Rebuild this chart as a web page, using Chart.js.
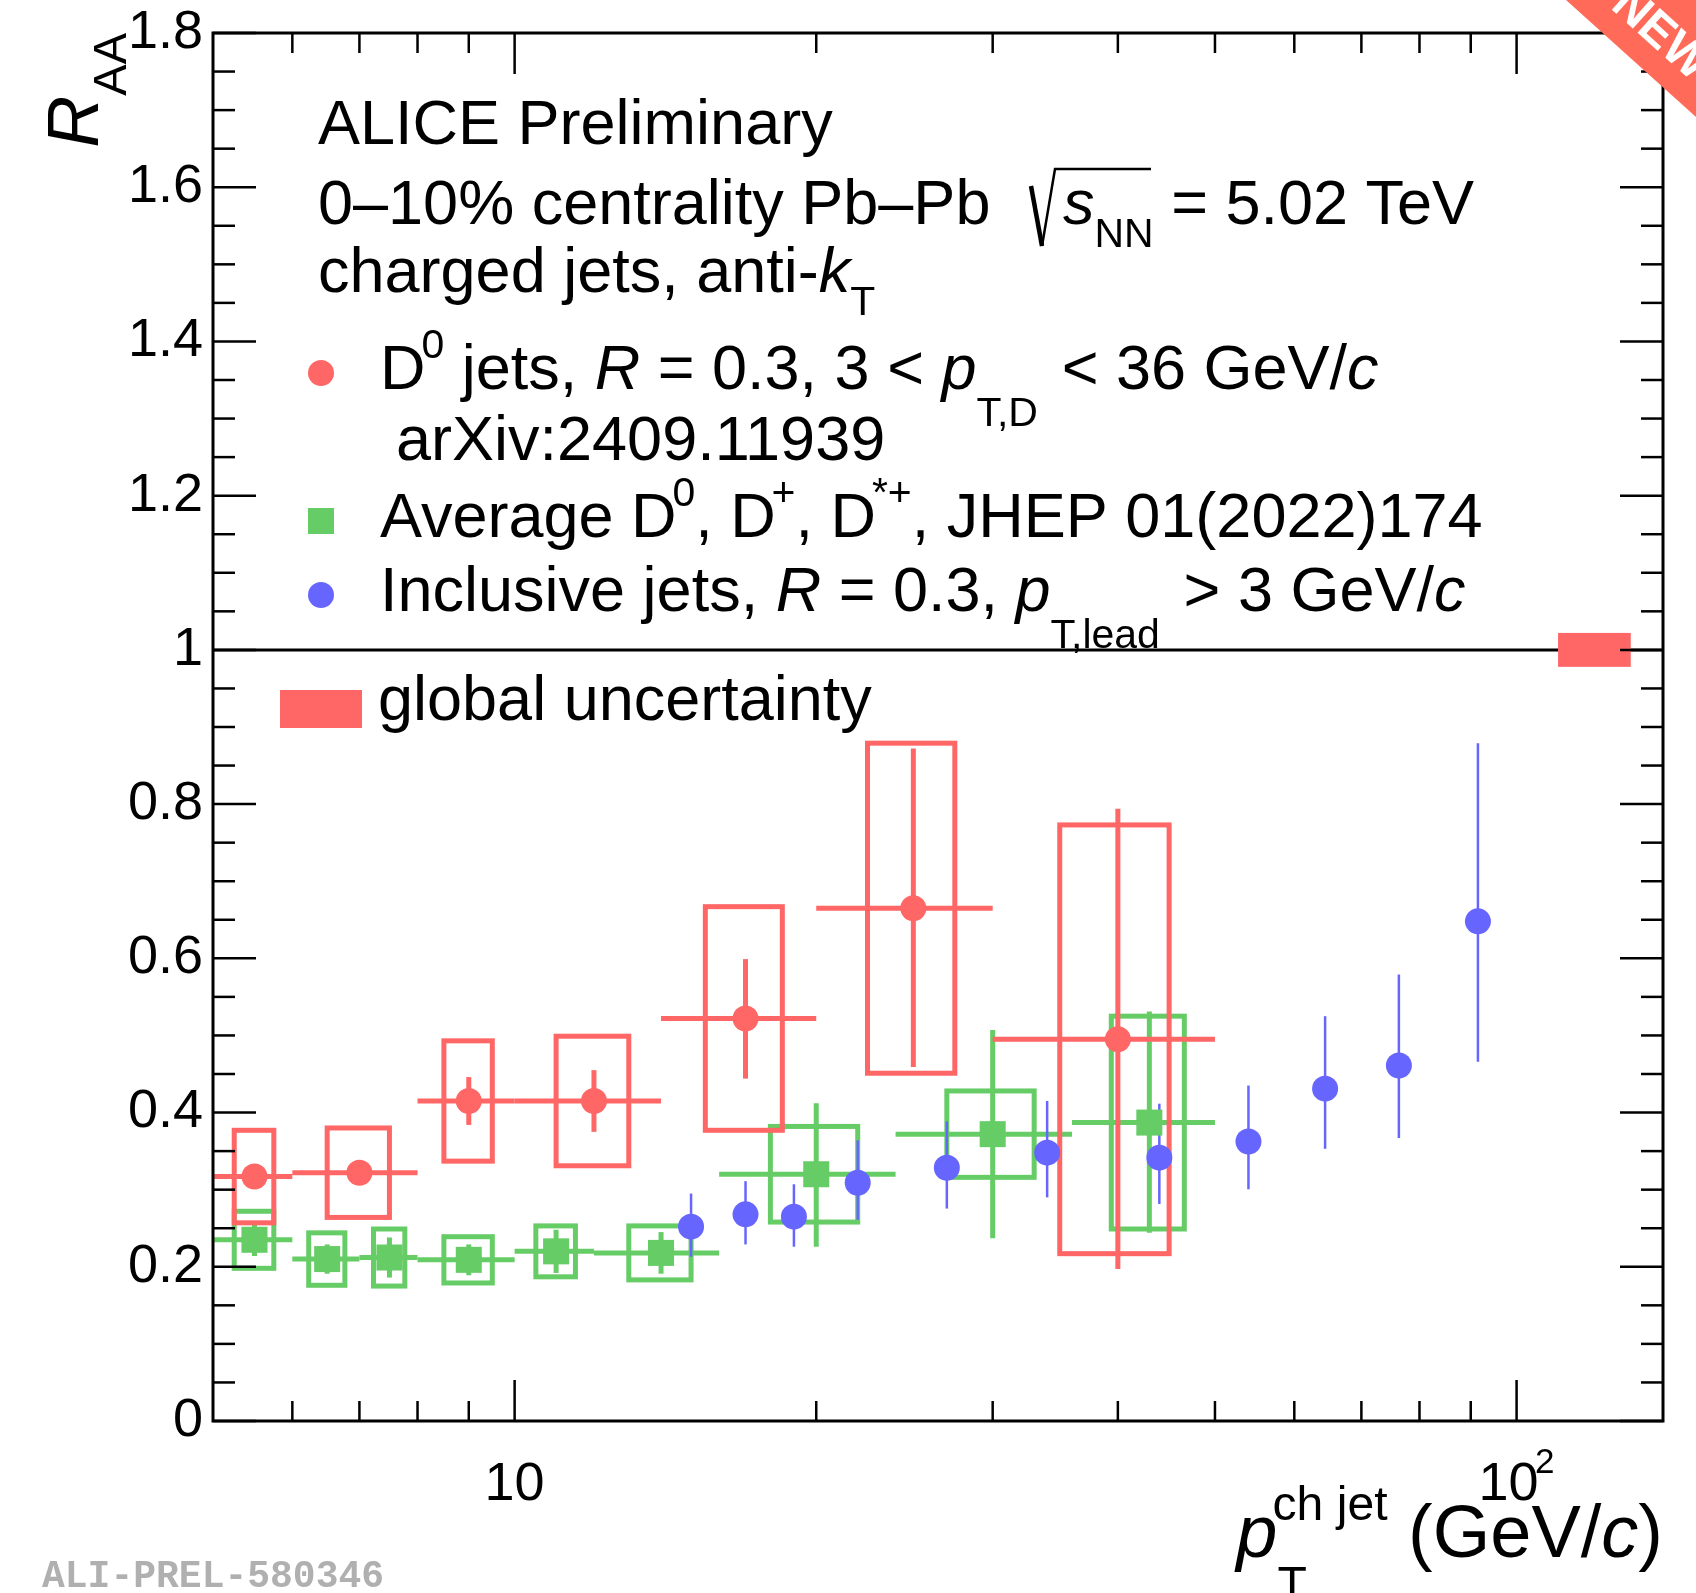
<!DOCTYPE html>
<html><head><meta charset="utf-8">
<script src="https://cdn.jsdelivr.net/npm/chart.js@4/dist/chart.umd.min.js"></script>
<style>html,body{margin:0;padding:0;background:#fff;overflow:hidden}#wrap{width:1696px;height:1593px;position:relative;background:#fff}</style>
</head><body><div id="wrap"><canvas id="c" width="1696" height="1593"></canvas></div>
<script>
// ---------------- data ----------------
// D0 jets, R = 0.3 (arXiv:2409.11939)
const d0Pt      = [5.5, 7, 9, 12, 17, 25, 40];
const d0BinLow  = [5, 6, 8, 10, 14, 20, 30];
const d0BinHigh = [6, 8, 10, 14, 20, 30, 50];
const d0Raa     = [0.317, 0.322, 0.415, 0.415, 0.522, 0.665, 0.495];
const d0StatUp  = [0.010, 0.012, 0.031, 0.040, 0.077, 0.207, 0.299];
const d0StatDn  = [0.010, 0.012, 0.031, 0.040, 0.078, 0.206, 0.298];
const d0Sys     = [0.060, 0.058, 0.078, 0.084, 0.145, 0.214, 0.278];
const d0SysHalfW= [0.25, 0.5, 0.5, 1, 1.5, 2.5, 5];

// Average D0, D+, D*+ (JHEP 01(2022)174)
const dAvgPt      = [5.5, 6.5, 7.5, 9, 11, 14, 20, 30, 43];
const dAvgBinLow  = [5, 6, 7, 8, 10, 12, 16, 24, 36];
const dAvgBinHigh = [6, 7, 8, 10, 12, 16, 24, 36, 50];
const dAvgRaa     = [0.235, 0.210, 0.212, 0.209, 0.220, 0.218, 0.320, 0.372, 0.387];
const dAvgStatUp  = [0.021, 0.019, 0.026, 0.020, 0.028, 0.027, 0.092, 0.135, 0.144];
const dAvgStatDn  = [0.021, 0.019, 0.026, 0.020, 0.028, 0.027, 0.094, 0.135, 0.143];
const dAvgSys     = [0.037, 0.034, 0.037, 0.030, 0.033, 0.035, 0.062, 0.056, 0.138];
const dAvgSysHalfW= [0.25, 0.27, 0.27, 0.5, 0.5, 1, 2, 3, 3.6];

// Inclusive jets, R = 0.3, pT,lead > 3 GeV/c
const incPt     = [15, 17, 19, 22, 27, 34, 44, 54, 64.4, 76.3, 91.5];
const incRaa    = [0.252, 0.268, 0.265, 0.309, 0.3285, 0.348, 0.3415, 0.3625, 0.431, 0.461, 0.648];
const incStatUp = [0.043, 0.043, 0.042, 0.055, 0.060, 0.067, 0.070, 0.0725, 0.094, 0.118, 0.231];
const incStatDn = [0.039, 0.039, 0.039, 0.048, 0.053, 0.058, 0.060, 0.062, 0.078, 0.094, 0.182];

// global uncertainty box
const globalUncX   = [110, 130];
const globalUncY   = [1.0];
const globalUncErr = [0.022];

// axes
const yMajorTicks = [0, 0.2, 0.4, 0.6, 0.8, 1.0, 1.2, 1.4, 1.6, 1.8];
const yTickLabels = ['0', '0.2', '0.4', '0.6', '0.8', '1', '1.2', '1.4', '1.6', '1.8'];
const yMinorPerMajor = 3;
const xMajorTicks = [10, 100];
const xTickLabels = ['10', '10^2'];
const xMinorTicks = [6, 7, 8, 9, 20, 30, 40, 50, 60, 70, 80, 90];
const xRange = [5, 140];
const yRange = [0, 1.8];

// ---------------- styles ----------------
const FONT = '"Liberation Sans", Arial, Helvetica, sans-serif';
const RED = '#ff6666', GREEN = '#66cc66', BLUE = '#6666ff';

function fontStr(size, italic, bold, fam) {
  return (italic ? 'italic ' : '') + (bold ? 'bold ' : '') + size + 'px ' + (fam || FONT);
}
// segments: [text, flags]; flags: i italic, ^ sup, _ sub, d deep sub, | overlay with next, + extra gap after
function drawRich(ctx, x, yb, segs, size, align) {
  const SS = 0.65;
  const items = segs.map(([t, f]) => {
    f = f || '';
    const small = f.includes('^') || f.includes('_');
    const sz = small ? size * SS : size;
    ctx.font = fontStr(sz, f.includes('i'));
    let dy = 0;
    if (f.includes('^')) dy = -0.5 * size;
    if (f.includes('_')) dy = f.includes('d') ? 0.58 * size : 0.36 * size;
    const extra = f.includes('+') ? 0.1 * size : 0;
    const pre = f.includes('^') ? -0.065 * size : 0;
    return {t, f, sz, dy, pre, w: ctx.measureText(t).width + extra + pre};
  });
  let total = 0, pend = 0;
  items.forEach(it => {
    if (it.f.includes('|')) { pend = Math.max(pend, it.w); }
    else { total += Math.max(pend, it.w); pend = 0; }
  });
  if (align === 'right') x -= total;
  if (align === 'center') x -= total / 2;
  let cx = x; pend = 0;
  ctx.textBaseline = 'alphabetic'; ctx.textAlign = 'left';
  items.forEach(it => {
    ctx.font = fontStr(it.sz, it.f.includes('i'));
    ctx.fillText(it.t, cx + it.pre, yb + it.dy);
    if (it.f.includes('|')) { pend = Math.max(pend, it.w); }
    else { cx += Math.max(pend, it.w); pend = 0; }
  });
  return cx;
}

function seg(ctx, x1, y1, x2, y2) { ctx.beginPath(); ctx.moveTo(x1, y1); ctx.lineTo(x2, y2); ctx.stroke(); }

function drawSeries(ctx, xs, ys, pts, raa, statUp, statDn, binLo, binHi, sys, sysHW, color, lw) {
  ctx.strokeStyle = color; ctx.lineWidth = lw;
  pts.forEach((p, i) => {
    const px = xs.getPixelForValue(p), py = ys.getPixelForValue(raa[i]);
    if (sys) {
      const xl = xs.getPixelForValue(p - sysHW[i]), xr = xs.getPixelForValue(p + sysHW[i]);
      const yt = ys.getPixelForValue(raa[i] + sys[i]), yb = ys.getPixelForValue(raa[i] - sys[i]);
      ctx.strokeRect(xl, yt, xr - xl, yb - yt);
    }
    if (binLo) seg(ctx, xs.getPixelForValue(binLo[i]), py, xs.getPixelForValue(binHi[i]), py);
    seg(ctx, px, ys.getPixelForValue(raa[i] + statUp[i]), px, ys.getPixelForValue(raa[i] - statDn[i]));
  });
}

const errPlugin = {
  id: 'errs',
  beforeDatasetsDraw(chart) {
    const {ctx, chartArea: a, scales: {x, y}} = chart;
    ctx.save();
    ctx.beginPath(); ctx.rect(a.left, a.top, a.right - a.left, a.bottom - a.top); ctx.clip();
    // reference line at unity
    ctx.strokeStyle = '#000'; ctx.lineWidth = 3;
    seg(ctx, a.left, y.getPixelForValue(1), a.right, y.getPixelForValue(1));
    // global uncertainty
    ctx.fillStyle = RED;
    const gx1 = x.getPixelForValue(globalUncX[0]), gx2 = x.getPixelForValue(globalUncX[1]);
    const gy1 = y.getPixelForValue(globalUncY[0] + globalUncErr[0]), gy2 = y.getPixelForValue(globalUncY[0] - globalUncErr[0]);
    ctx.fillRect(gx1, gy1, gx2 - gx1, gy2 - gy1);
    drawSeries(ctx, x, y, dAvgPt, dAvgRaa, dAvgStatUp, dAvgStatDn, dAvgBinLow, dAvgBinHigh, dAvgSys, dAvgSysHalfW, GREEN, 5);
    drawSeries(ctx, x, y, d0Pt, d0Raa, d0StatUp, d0StatDn, d0BinLow, d0BinHigh, d0Sys, d0SysHalfW, RED, 5);
    drawSeries(ctx, x, y, incPt, incRaa, incStatUp, incStatDn, null, null, null, null, BLUE, 2.5);
    ctx.restore();
  }
};

const decoPlugin = {
  id: 'deco',
  afterDraw(chart) {
    const {ctx, chartArea: a, scales: {x, y}} = chart;
    ctx.save();
    ctx.strokeStyle = '#000'; ctx.lineWidth = 2.5;
    // y ticks (inward, both sides)
    yMajorTicks.forEach((v, i) => {
      const py = y.getPixelForValue(v);
      seg(ctx, a.left, py, a.left + 43, py); seg(ctx, a.right, py, a.right - 43, py);
      if (i < yMajorTicks.length - 1) {
        const step = (yMajorTicks[i + 1] - v) / (yMinorPerMajor + 1);
        for (let k = 1; k <= yMinorPerMajor; k++) {
          const pm = y.getPixelForValue(v + k * step);
          seg(ctx, a.left, pm, a.left + 22, pm); seg(ctx, a.right, pm, a.right - 22, pm);
        }
      }
    });
    xMajorTicks.forEach(v => {
      const px = x.getPixelForValue(v);
      seg(ctx, px, a.bottom, px, a.bottom - 41); seg(ctx, px, a.top, px, a.top + 41);
    });
    xMinorTicks.forEach(v => {
      const px = x.getPixelForValue(v);
      seg(ctx, px, a.bottom, px, a.bottom - 20); seg(ctx, px, a.top, px, a.top + 20);
    });
    // frame
    ctx.lineWidth = 3;
    ctx.strokeRect(a.left, a.top, a.right - a.left, a.bottom - a.top);

    ctx.fillStyle = '#000';
    // x tick labels
    xMajorTicks.forEach((v, i) => {
      const parts = xTickLabels[i].split('^');
      const segs = [[parts[0], '']];
      if (parts[1]) segs.push([parts[1], '^']);
      drawRich(ctx, x.getPixelForValue(v), a.bottom + 79, segs, 54, 'center');
    });
    // x title
    drawRich(ctx, a.right, 1557, [['p', 'i'], ['T', '_d|'], ['ch jet', '^'], [' (GeV/', ''], ['c', 'i'], [')', '']], 74, 'right');
    // y title (rotated)
    ctx.save();
    ctx.translate(98, 0); ctx.rotate(-Math.PI / 2);
    ctx.font = fontStr(72, true); const wR = ctx.measureText('R').width;
    ctx.font = fontStr(47, false); const wA = ctx.measureText('AA').width;
    ctx.font = fontStr(72, true); ctx.textAlign = 'left'; ctx.textBaseline = 'alphabetic';
    ctx.fillText('R', -(33 + wR + wA), 0);
    ctx.font = fontStr(47, false);
    ctx.fillText('AA', -(33 + wA), 28);
    ctx.restore();

    // header text
    const TS = 63;
    drawRich(ctx, 318, 144, [['ALICE Preliminary', '']], TS);
    drawRich(ctx, 318, 224, [['0\u201310% centrality Pb\u2013Pb', '']], TS);
    // sqrt sign
    ctx.strokeStyle = '#000';
    ctx.lineWidth = 4.5; seg(ctx, 1031, 186, 1042, 246);
    ctx.lineWidth = 2.5;
    ctx.beginPath(); ctx.moveTo(1042, 246); ctx.lineTo(1055, 169); ctx.lineTo(1151, 169); ctx.stroke();
    drawRich(ctx, 1063, 224, [['s', 'i'], ['NN', '_'], [' = 5.02 TeV', '']], TS);
    drawRich(ctx, 318, 292, [['charged jets, anti-', ''], ['k', 'i'], ['T', '_']], TS);

    // legend entries
    ctx.fillStyle = RED; ctx.beginPath(); ctx.arc(321, 373, 13, 0, 2 * Math.PI); ctx.fill();
    ctx.fillStyle = '#000';
    drawRich(ctx, 380, 389, [['D', ''], ['0', '^'], [' jets, ', ''], ['R', 'i'], [' = 0.3, 3 < ', ''], ['p', 'i'], ['T,D', '_d+'], [' < 36 GeV/', ''], ['c', 'i']], TS);
    drawRich(ctx, 396, 460, [['arXiv:2409.11939', '']], TS);
    ctx.fillStyle = GREEN; ctx.fillRect(308, 508, 26, 26);
    ctx.fillStyle = '#000';
    drawRich(ctx, 380, 537, [['Average D', ''], ['0', '^'], [', D', ''], ['+', '^'], [', D', ''], ['*+', '^'], [', JHEP 01(2022)174', '']], TS);
    ctx.fillStyle = BLUE; ctx.beginPath(); ctx.arc(321, 595, 13, 0, 2 * Math.PI); ctx.fill();
    ctx.fillStyle = '#000';
    drawRich(ctx, 380, 611, [['Inclusive jets, ', ''], ['R', 'i'], [' = 0.3, ', ''], ['p', 'i'], ['T,lead', '_d+'], [' > 3 GeV/', ''], ['c', 'i']], TS);
    ctx.fillStyle = RED; ctx.fillRect(280, 690, 82, 38);
    ctx.fillStyle = '#000';
    drawRich(ctx, 378, 720, [['global uncertainty', '']], TS);

    // watermark
    ctx.fillStyle = '#b0b0b0';
    ctx.font = fontStr(38, false, true, '"Liberation Mono", "DejaVu Sans Mono", monospace');
    ctx.textAlign = 'left'; ctx.textBaseline = 'alphabetic';
    ctx.fillText('ALI-PREL-580346', 42, 1587);

    // corner ribbon
    ctx.fillStyle = '#ff6b58';
    ctx.beginPath(); ctx.moveTo(1566, 0); ctx.lineTo(1696, 0); ctx.lineTo(1696, 117); ctx.closePath(); ctx.fill();
    ctx.save();
    ctx.beginPath(); ctx.moveTo(1566, 0); ctx.lineTo(1696, 0); ctx.lineTo(1696, 117); ctx.closePath(); ctx.clip();
    ctx.translate(1660, 35); ctx.rotate(Math.atan2(117, 130));
    ctx.fillStyle = '#fff'; ctx.font = fontStr(48, false, true); ctx.textAlign = 'center'; ctx.textBaseline = 'middle';
    ctx.fillText('NEW', 0, 0);
    ctx.restore();
    ctx.restore();
  }
};

const chart = new Chart(document.getElementById('c'), {
  type: 'scatter',
  data: {
    datasets: [
      { label: 'Inclusive jets', data: incPt.map((v, i) => ({x: v, y: incRaa[i]})),
        pointStyle: 'circle', pointRadius: 13, pointBackgroundColor: BLUE, pointBorderColor: BLUE, pointBorderWidth: 0, showLine: false },
      { label: 'D0 jets', data: d0Pt.map((v, i) => ({x: v, y: d0Raa[i]})),
        pointStyle: 'circle', pointRadius: 13, pointBackgroundColor: RED, pointBorderColor: RED, pointBorderWidth: 0, showLine: false },
      { label: 'Average D', data: dAvgPt.map((v, i) => ({x: v, y: dAvgRaa[i]})),
        pointStyle: 'rect', pointRadius: 18.4, pointBackgroundColor: GREEN, pointBorderColor: GREEN, pointBorderWidth: 0, showLine: false }
    ]
  },
  options: {
    responsive: false, animation: false, devicePixelRatio: 1, events: [],
    layout: {padding: {top: 33, right: 33, left: 0, bottom: 0}},
    plugins: {legend: {display: false}, tooltip: {enabled: false}},
    scales: {
      x: {type: 'logarithmic', min: xRange[0], max: xRange[1],
          grid: {display: false, drawTicks: false}, border: {display: false},
          ticks: {display: false},
          afterFit(s) { s.height = 172; s.paddingLeft = 0; s.paddingRight = 0; }},
      y: {type: 'linear', min: yRange[0], max: yRange[1],
          grid: {display: false, drawTicks: false}, border: {display: false},
          afterBuildTicks(s) { s.ticks = yMajorTicks.map(v => ({value: v})); },
          ticks: {autoSkip: false, padding: 10, color: '#000', font: {family: FONT, size: 54},
                  callback: (v, i) => yTickLabels[i]},
          afterFit(s) { s.width = 213; s.paddingTop = 0; s.paddingBottom = 0; }}
    }
  },
  plugins: [errPlugin, decoPlugin]
});
</script></body></html>
